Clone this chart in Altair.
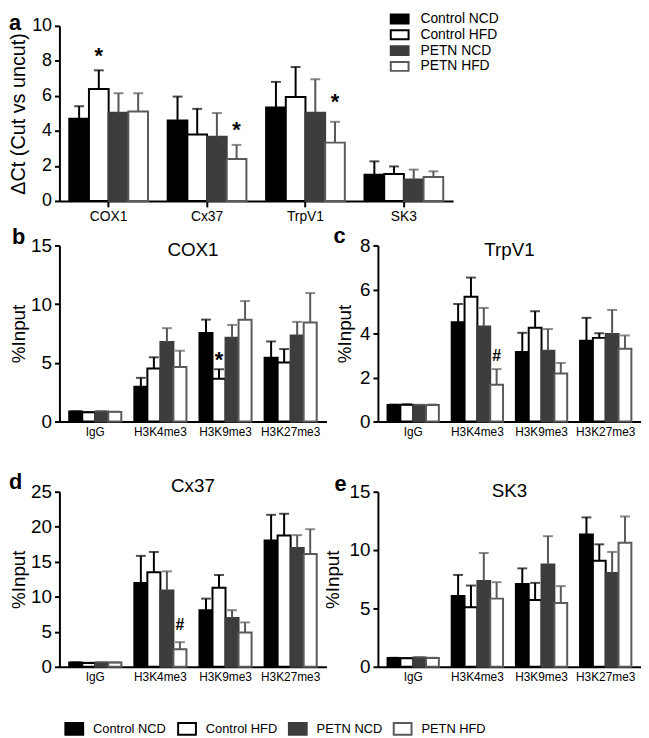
import altair as alt
import pandas as pd

groups = ["Control NCD", "Control HFD", "PETN NCD", "PETN HFD"]
genes = ["COX1", "Cx37", "TrpV1", "SK3"]
chip = ["IgG", "H3K4me3", "H3K9me3", "H3K27me3"]

# Panel a: delta Ct (cut vs uncut)
a_mean = {
    "Control NCD": [4.70, 4.60, 5.34, 1.50],
    "Control HFD": [6.39, 3.80, 5.94, 1.54],
    "PETN NCD": [5.04, 3.67, 5.04, 1.22],
    "PETN HFD": [5.11, 2.39, 3.33, 1.37],
}
a_err = {
    "Control NCD": [0.71, 1.36, 1.46, 0.76],
    "Control HFD": [1.07, 1.46, 1.71, 0.43],
    "PETN NCD": [1.11, 1.35, 1.91, 0.57],
    "PETN HFD": [1.04, 0.81, 1.19, 0.32],
}
# Panel b: COX1 %Input
b_mean = {
    "Control NCD": [0.85, 2.96, 7.53, 5.44],
    "Control HFD": [0.78, 4.51, 3.64, 5.02],
    "PETN NCD": [0.85, 6.77, 7.13, 7.33],
    "PETN HFD": [0.82, 4.65, 8.66, 8.43],
}
b_err = {
    "Control NCD": [0.02, 0.76, 1.15, 1.38],
    "Control HFD": [0.02, 0.96, 0.81, 1.15],
    "PETN NCD": [0.02, 1.18, 1.10, 1.16],
    "PETN HFD": [0.02, 1.38, 1.60, 2.51],
}
# Panel c: TrpV1 %Input
c_mean = {
    "Control NCD": [0.75, 4.51, 3.16, 3.67],
    "Control HFD": [0.76, 5.67, 4.26, 3.80],
    "PETN NCD": [0.74, 4.32, 3.22, 3.98],
    "PETN HFD": [0.75, 1.67, 2.18, 3.31],
}
c_err = {
    "Control NCD": [0.02, 0.83, 0.87, 1.04],
    "Control HFD": [0.02, 0.87, 0.75, 0.21],
    "PETN NCD": [0.02, 0.84, 0.98, 1.09],
    "PETN HFD": [0.02, 0.71, 0.48, 0.60],
}
# Panel d: Cx37 %Input
d_mean = {
    "Control NCD": [0.61, 11.98, 8.08, 18.05],
    "Control HFD": [0.55, 13.49, 11.28, 18.75],
    "PETN NCD": [0.61, 10.90, 6.95, 16.96],
    "PETN HFD": [0.61, 2.49, 4.89, 16.12],
}
d_err = {
    "Control NCD": [0.02, 3.86, 1.65, 3.65],
    "Control HFD": [0.02, 2.91, 1.83, 3.10],
    "PETN NCD": [0.02, 2.73, 1.13, 1.84],
    "PETN HFD": [0.02, 1.03, 1.45, 3.52],
}
# Panel e: SK3 %Input
e_mean = {
    "Control NCD": [0.75, 6.06, 7.10, 11.33],
    "Control HFD": [0.73, 5.10, 5.72, 9.08],
    "PETN NCD": [0.80, 7.36, 8.77, 8.04],
    "PETN HFD": [0.75, 5.84, 5.47, 10.63],
}
e_err = {
    "Control NCD": [0.02, 1.81, 1.33, 1.47],
    "Control HFD": [0.02, 1.86, 1.47, 1.41],
    "PETN NCD": [0.02, 2.39, 2.42, 1.80],
    "PETN HFD": [0.02, 1.41, 1.44, 2.25],
}
# significance marks: (category, group, label, y)
a_ann = [("COX1", "Control HFD", "*", 8.55), ("Cx37", "PETN HFD", "*", 4.32), ("TrpV1", "PETN HFD", "*", 5.93)]
b_ann = [("H3K9me3", "Control HFD", "*", 5.64)]
c_ann = [("H3K4me3", "PETN HFD", "#", 3.0)]
d_ann = [("H3K4me3", "PETN HFD", "#", 6.1)]
e_ann = []

FILL = ["#000000", "#ffffff", "#3d3d3d", "#ffffff"]
STROKE = ["#000000", "#000000", "#3d3d3d", "#5a5a5a"]
ERRC = ["#000000", "#000000", "#555555", "#5a5a5a"]

SANS = "Liberation Sans"


def long_df(cats, mean, err):
    rows = []
    for g in groups:
        for c, m, e in zip(cats, mean[g], err[g]):
            rows.append({"cat": c, "group": g, "mean": m, "upper": m + e})
    return pd.DataFrame(rows)


def panel(cats, mean, err, ann, width, height, ymax, yvals, ytitle, ytitle_x,
          letter, letter_x, letter_y, title=None, title_y=0, pad_outer=0.15,
          xticks=False, xlabel_size=12, ylabel_size=19, legend=None,
          ann_dy=10, ann_size=20, ytitle_size=19):
    df = long_df(cats, mean, err)
    xaxis = alt.Axis(labelAngle=0, labelFont=SANS, labelFontSize=xlabel_size,
                     labelColor="black", ticks=xticks, tickSize=6, tickWidth=2,
                     tickColor="black", domainColor="black", domainWidth=2,
                     labelPadding=3 if xticks else 5, grid=False, title=None)
    x = alt.X("cat:N", sort=cats, title=None,
              scale=alt.Scale(paddingInner=0.2, paddingOuter=pad_outer), axis=xaxis)
    xo = alt.XOffset("group:N", sort=groups,
                     scale=alt.Scale(domain=groups, paddingInner=0, paddingOuter=0))
    yaxis = alt.Axis(values=yvals, title=ytitle, titleFont=SANS, titleFontSize=ytitle_size,
                     titleFontWeight="normal", titleColor="black", titleX=ytitle_x,
                     titleY=height / 2, titleAngle=270, titleAlign="center",
                     titleBaseline="middle", labelFont=SANS, labelFontSize=ylabel_size,
                     labelColor="black", tickSize=5, tickWidth=2, tickColor="black",
                     domainColor="black", domainWidth=2, labelPadding=3, grid=False)
    yscale = alt.Scale(domain=[0, ymax], nice=False, zero=True)
    fill = alt.Fill("group:N", sort=groups, scale=alt.Scale(domain=groups, range=FILL),
                    legend=legend)
    stroke = alt.Stroke("group:N", sort=groups, scale=alt.Scale(domain=groups, range=STROKE),
                        legend=legend)
    ecol = alt.Color("group:N", sort=groups, scale=alt.Scale(domain=groups, range=ERRC),
                     legend=None)
    base = alt.Chart(df)
    bars = base.mark_bar(strokeWidth=2).encode(
        x=x, xOffset=xo, y=alt.Y("mean:Q", scale=yscale, axis=yaxis), fill=fill, stroke=stroke)
    rules = base.mark_rule(strokeWidth=2).encode(
        x=x, xOffset=xo, y=alt.Y("mean:Q", scale=yscale, axis=yaxis), y2="upper:Q", color=ecol)
    caps = base.mark_tick(size=10, thickness=2).encode(
        x=x, xOffset=xo, y=alt.Y("upper:Q", scale=yscale, axis=yaxis), color=ecol)
    layers = [bars, rules, caps]
    if ann:
        adf = pd.DataFrame(ann, columns=["cat", "group", "label", "y"])
        layers.append(alt.Chart(adf).mark_text(
            font=SANS, fontSize=ann_size, fontWeight="bold", baseline="alphabetic",
            dy=ann_dy, color="black").encode(
            x=x, xOffset=xo, y=alt.Y("y:Q", scale=yscale, axis=yaxis), text="label:N"))
    layers.append(alt.Chart(pd.DataFrame({"t": [letter]})).mark_text(
        font=SANS, fontSize=22, fontWeight="bold", align="left", baseline="alphabetic",
        color="black").encode(x=alt.value(letter_x), y=alt.value(letter_y), text="t:N"))
    if title:
        layers.append(alt.Chart(pd.DataFrame({"t": [title]})).mark_text(
            font=SANS, fontSize=19, align="center", baseline="alphabetic",
            color="black").encode(x=alt.value(width / 2), y=alt.value(title_y), text="t:N"))
    return alt.layer(*layers).properties(width=width, height=height)


legend_a = alt.Legend(title=None, orient="none", legendX=337, legendY=-14,
                      direction="vertical", symbolType="M-2,-1H2V1H-2Z", symbolSize=81,
                      symbolStrokeWidth=2, labelFont=SANS, labelFontSize=14,
                      labelColor="black", labelOffset=14, rowPadding=-2, padding=0)
legend_bottom = alt.Legend(title=None, orient="none", legendX=8.5, legendY=233,
                           direction="horizontal", columns=4, columnPadding=7,
                           symbolType="M-2,-1.333H2V1.333H-2Z", symbolSize=81,
                           symbolStrokeWidth=2, labelFont=SANS, labelFontSize=13,
                           labelColor="black", labelOffset=12.5, padding=0)

pa = panel(genes, a_mean, a_err, a_ann, 398, 177, 10, [0, 2, 4, 6, 8, 10],
           "ΔCt (Cut vs uncut)", -41, "a", -51, 4, pad_outer=0.1, xticks=True,
           xlabel_size=14, ylabel_size=18, legend=legend_a, ann_dy=12, ann_size=22,
           ytitle_size=20)
pb = panel(chip, b_mean, b_err, b_ann, 270, 178, 15, [0, 5, 10, 15], "%Input", -41,
           "b", -48, -1, title="COX1", title_y=11, ann_dy=12, ann_size=22)
pc = panel(chip, c_mean, c_err, c_ann, 266, 178, 8, [0, 2, 4, 6, 8], "%Input", -34,
           "c", -45, -2, title="TrpV1", title_y=11, ann_dy=6, ann_size=16)
pd_ = panel(chip, d_mean, d_err, d_ann, 270, 177, 25, [0, 5, 10, 15, 20, 25], "%Input", -41,
            "d", -51, -3, title="Cx37", title_y=0, legend=legend_bottom, ann_dy=6, ann_size=16)
pe = panel(chip, e_mean, e_err, e_ann, 266, 177, 15, [0, 5, 10, 15], "%Input", -46,
           "e", -44, -1, title="SK3", title_y=5)

RES = dict(x="independent", y="independent", xOffset="independent", fill="independent",
           stroke="independent", color="independent")

row_bc = alt.hconcat(pb, pc, spacing=52, bounds="flush").resolve_scale(**RES)
row_de = alt.hconcat(pd_, pe, spacing=52, bounds="flush").resolve_scale(**RES)
lower = alt.vconcat(row_bc, row_de, spacing=34).resolve_scale(**RES)
chart = alt.vconcat(pa, lower, spacing=2).resolve_scale(**RES).properties(
    padding={"top": 0, "left": 0, "right": 0, "bottom": 0}
).configure_view(stroke=None)

chart.save("out.html", embed_options={"renderer": "svg", "actions": False})
